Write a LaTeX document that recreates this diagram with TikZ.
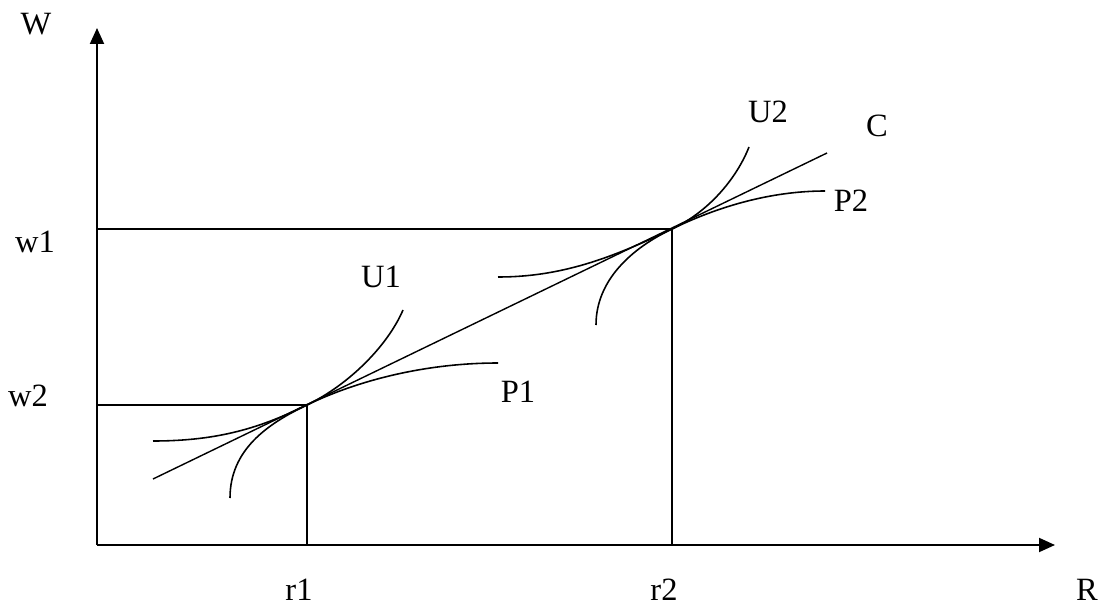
\documentclass[tikz,border=0pt]{standalone}
\usepackage{fontspec}
\setmainfont{Liberation Serif}
\usetikzlibrary{arrows.meta}
\begin{document}
\begin{tikzpicture}[
		x=0.02cm, y=-0.02cm,
		every node/.style={font=\fontsize{18.5}{22}\selectfont, inner sep=0pt},
		axis/.style={line width=1.1pt, -{Triangle[length=0.32cm, width=0.28cm]}},
		guide/.style={line width=0.8pt},
		curve/.style={line width=0.9pt}
		]
		\useasboundingbox (0,0) rectangle (1099,608);
		
		% Points
		\coordinate (o) at (97,545);
		\coordinate (ytop) at (97,28);
		\coordinate (xend) at (1055,545);
		\coordinate (e1) at (307,405);
		\coordinate (e2) at (672,229);
		\coordinate (w1p) at (97,229);
		\coordinate (w2p) at (97,405);
		\coordinate (r1p) at (307,545);
		\coordinate (r2p) at (672,545);
		\coordinate (c0) at (153,479);
		\coordinate (c1) at (827,153);
		
		% Draw Axes
		\draw[axis] (o) -- (ytop);
		\draw[axis] (o) -- (xend);
		
		% Guide Lines
		\draw[guide] (w1p) -- (e2) -- (r2p);
		\draw[guide] (w2p) -- (e1) -- (r1p);
		
		% Line C
		\draw[guide] (c0) -- (c1);
		
		% Curves U1, P1
		\draw[curve] (230,498) .. controls (230,450) and (267,424) .. (e1)
			.. controls (350,384) and (388,345) .. (403,310);
		\draw[curve] (153,441) .. controls (220,441) and (262,427) .. (e1)
			.. controls (352,383) and (420,363) .. (498,363);
		
		% Curves U2, P2
		\draw[curve] (596,325) .. controls (596,280) and (632,248) .. (e2)
			.. controls (712,210) and (738,175) .. (749,147);
		\draw[curve] (498,277) .. controls (560,277) and (610,259) .. (e2)
			.. controls (717,207) and (770,191) .. (825,191);
		
		% Labels
		\node (labW) at (36,24) {W};
		\node (labR) at (1087,590) {R};
		\node (labw1) at (35,242) {w1};
		\node (labw2) at (28,396) {w2};
		\node (labr1) at (299,590) {r1};
		\node (labr2) at (664,590) {r2};
		\node (labU1) at (381,277) {U1};
		\node (labP1) at (518,392) {P1};
		\node (labU2) at (768,112) {U2};
		\node (labC) at (877,126) {C};
		\node (labP2) at (851,201) {P2};
		
	\end{tikzpicture}
\end{document}
